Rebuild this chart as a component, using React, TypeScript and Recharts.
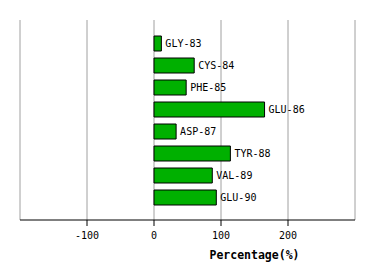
import React from 'react';
import { BarChart, Bar, XAxis, YAxis, CartesianGrid, LabelList } from 'recharts';

const residues = ['GLY-83', 'CYS-84', 'PHE-85', 'GLU-86', 'ASP-87', 'TYR-88', 'VAL-89', 'GLU-90'];
const percentages = [11, 60, 48, 165, 33, 114, 87, 93];
const xTicks = [-100, 0, 100, 200];

const data = residues.map((r, i) => ({ name: r, value: percentages[i] }));

const font = '"DejaVu Sans Mono", monospace';

const AxisTitle = (props: any) => {
  const vb = props.viewBox || {};
  const cx = vb.x + vb.width * 0.7;
  return (
    <text x={cx} y={vb.y + 39} textAnchor="middle" fontFamily={font} fontSize={11.5} fontWeight="bold" fill="#000">
      Percentage(%)
    </text>
  );
};

export default function App() {
  return (
    <div style={{ position: 'absolute', left: 0, top: 0, width: 374, height: 280, background: '#fff' }}>
      <BarChart
        width={374}
        height={280}
        data={data}
        layout="vertical"
        margin={{ top: 20, right: 19, bottom: 0, left: 20 }}
        barSize={15}
      >
        <CartesianGrid horizontal={false} vertical={true} stroke="#a0a0a0" strokeWidth={1} />
        <XAxis
          type="number"
          domain={[-200, 300]}
          ticks={xTicks}
          allowDataOverflow
          stroke="#000"
          tickSize={6}
          tick={{ fontFamily: font, fontSize: 10, fill: '#000' }}
          tickMargin={6}
          height={60}
          label={<AxisTitle />}
        />
        <YAxis type="category" dataKey="name" hide padding={{ top: 12, bottom: 12 }} />
        <Bar dataKey="value" fill="#00b000" stroke="#000" strokeWidth={1} isAnimationActive={false}>
          <LabelList dataKey="name" position="right" offset={4} fill="#000" fontFamily={font} fontSize={10} />
        </Bar>
      </BarChart>
    </div>
  );
}
